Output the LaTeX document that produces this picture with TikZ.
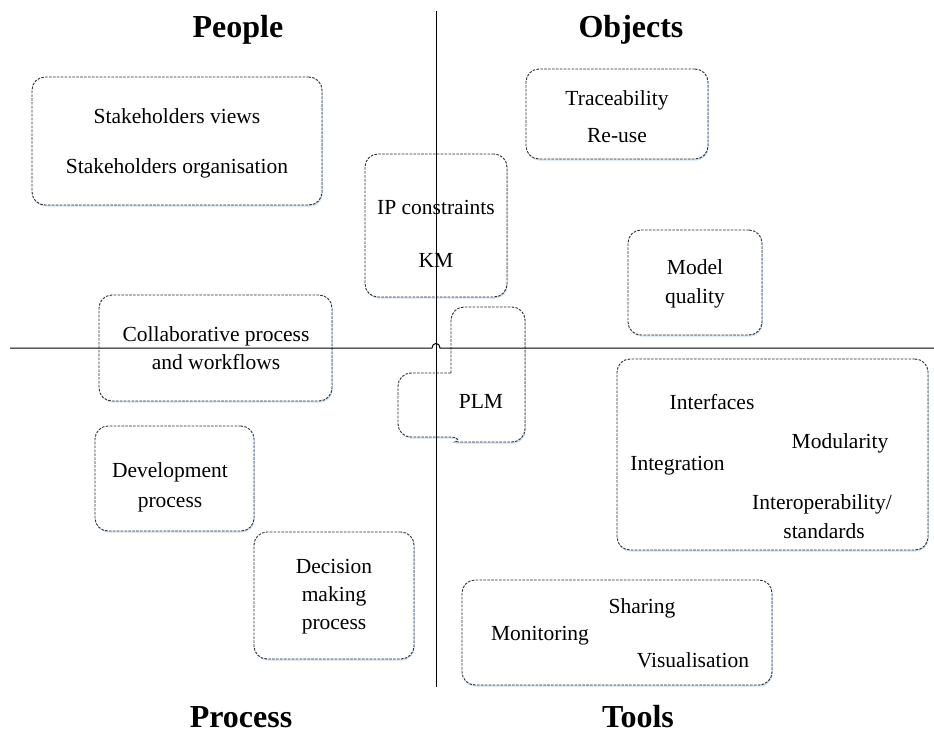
\documentclass[tikz,border=0pt]{standalone}
\usepackage{fontspec}
\setmainfont{Liberation Serif}
\usetikzlibrary{shadows}
\definecolor{boxgray}{RGB}{45,45,45}
\definecolor{halo}{RGB}{205,225,245}
\tikzset{
  qbox/.style={draw=boxgray, dashed, dash pattern=on 2.6pt off 1.3pt, line width=0.9pt,
    rounded corners=13pt, fill=white, inner sep=0pt,
    drop shadow={shadow xshift=0.8pt, shadow yshift=-1.6pt, fill=halo, opacity=1}},
  txt/.style={font=\fontsize{21.5}{25}\selectfont, inner sep=0pt, anchor=base},
  head/.style={font=\fontsize{32}{36}\selectfont\bfseries, inner sep=0pt, anchor=base},
  axis/.style={draw=black, line width=1pt}
}
\begin{document}
\begin{tikzpicture}[x=1pt,y=-1pt]
\useasboundingbox (0,0) rectangle (934,736);
% boxes
\node[qbox, minimum width=290pt, minimum height=128pt] (stake) at (177,141) {};
\node[qbox, minimum width=142pt, minimum height=143pt] (ip) at (436,225.5) {};
\node[qbox, minimum width=182pt, minimum height=90pt] (trace) at (617,114) {};
\node[qbox, minimum width=134pt, minimum height=105pt] (model) at (695,282.5) {};
\node[qbox, minimum width=233pt, minimum height=106pt] (collab) at (215.5,348) {};
\node[qbox, minimum width=159pt, minimum height=105pt] (devel) at (174.5,478.5) {};
\node[qbox, minimum width=160pt, minimum height=127pt] (decis) at (334,595.5) {};
\node[qbox, minimum width=311pt, minimum height=191pt] (inter) at (772.5,454.5) {};
\node[qbox, minimum width=310pt, minimum height=105pt] (tools) at (617,632.5) {};
% PLM shape
\draw[draw=boxgray, dashed, dash pattern=on 2.6pt off 1.3pt, line width=0.9pt, fill=white,
      drop shadow={shadow xshift=0.8pt, shadow yshift=-1.6pt, fill=halo, opacity=1}]
  (451,373) [rounded corners=13pt] -- (451,307) -- (525,307) -- (525,442) -- (468,442)
  [sharp corners] .. controls (459,442) and (460,437) .. (450,437)
  [rounded corners=13pt] -- (398,437) -- (398,373) [sharp corners] -- cycle;
\coordinate (plm) at (481,400);
% axes
\coordinate (vtop) at (436,11);
\coordinate (vbot) at (436,687);
\coordinate (hleft) at (10,348);
\coordinate (hright) at (934,348);
\draw[axis] (vtop) -- (vbot);
\draw[axis] (hleft) -- (432,348) .. controls (432,342) and (440,342) .. (440,348) -- (hright);
% headings
\node[head] (people) at (238,37) {People};
\node[head] (objects) at (631,37) {Objects};
\node[head] (process) at (241,727) {Process};
\node[head] (toolsh) at (638,727) {Tools};
% texts
\node[txt] at (177,123) {Stakeholders views};
\node[txt] at (177,173) {Stakeholders organisation};
\node[txt] at (436,214) {IP constraints};
\node[txt] at (436,267) {KM};
\node[txt] at (617,105) {Traceability};
\node[txt] at (617,142) {Re-use};
\node[txt] at (695,274) {Model};
\node[txt] at (695,303) {quality};
\node[txt] at (216,341) {Collaborative process};
\node[txt] at (216,369) {and workflows};
\node[txt] at (170,477) {Development};
\node[txt] at (170,507) {process};
\node[txt] at (334,573) {Decision};
\node[txt] at (334,601) {making};
\node[txt] at (334,629) {process};
\node[txt] at (481,408) {PLM};
\node[txt] at (712,409) {Interfaces};
\node[txt] at (840,448) {Modularity};
\node[txt] at (677.5,470) {Integration};
\node[txt] at (822,509) {Interoperability/};
\node[txt] at (824,538) {standards};
\node[txt] at (642,613) {Sharing};
\node[txt] at (540,640) {Monitoring};
\node[txt] at (693,667) {Visualisation};
\end{tikzpicture}
\end{document}
